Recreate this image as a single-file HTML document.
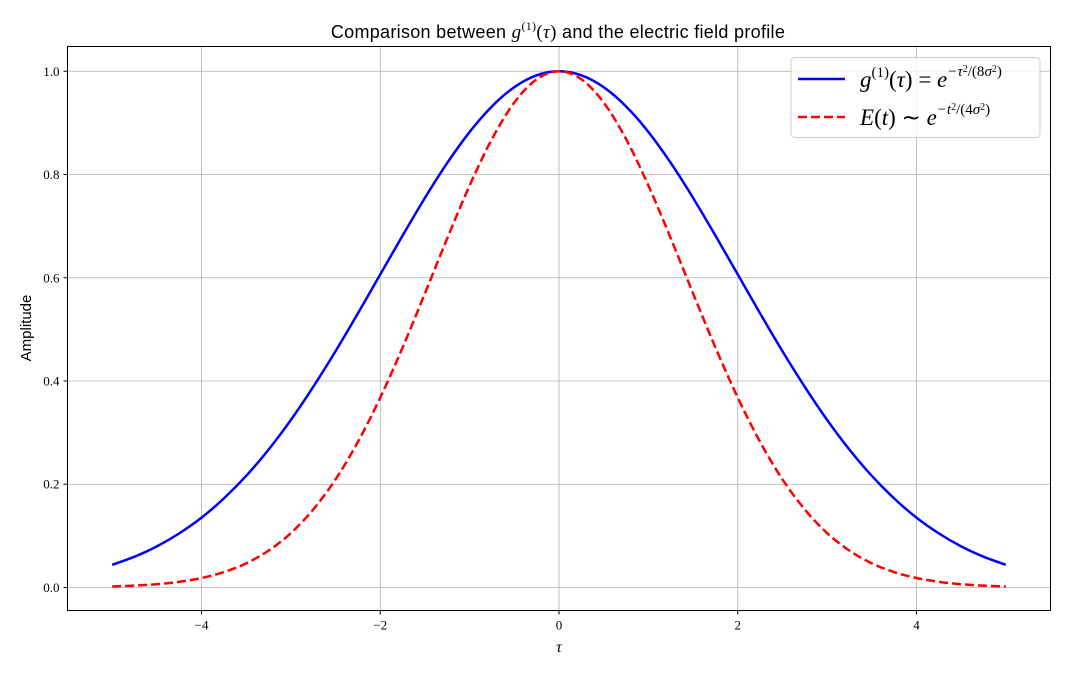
<!DOCTYPE html>
<html><head><meta charset="utf-8"><style>
html,body{margin:0;padding:0;background:#fff;}
svg{display:block;}
.tick{font-family:"Liberation Serif",serif;font-size:13px;fill:#000;}
.lbl{font-family:"Liberation Sans",sans-serif;font-size:15px;fill:#000;}
.math{font-family:"Liberation Serif",serif;font-style:italic;}
</style></head><body>
<svg id="chart" width="1067" height="676" viewBox="0 0 1067 676">
<g id="grid"></g>
<g id="series"></g>
<rect x="67.5" y="46.5" width="983" height="564" fill="none" stroke="#000" stroke-width="1"/>
<g id="ticks"></g>
<text x="558" y="38" text-anchor="middle" class="lbl" style="font-size:18px;letter-spacing:0.3px">Comparison between <tspan class="math" style="font-family:'Liberation Serif',serif;font-size:19px">g</tspan><tspan dy="-8" style="font-size:12px;font-family:'Liberation Serif',serif">(1)</tspan><tspan dy="8" style="font-family:'Liberation Serif',serif;font-size:19px">(</tspan><tspan class="math" style="font-size:19px">τ</tspan><tspan style="font-family:'Liberation Serif',serif;font-size:19px">)</tspan> and the electric field profile</text>
<text x="559" y="652" text-anchor="middle" class="math" style="font-size:16px">τ</text>
<text transform="translate(31,328) rotate(-90)" text-anchor="middle" class="lbl">Amplitude</text>
<g>
<rect x="791" y="57.5" width="249" height="80" rx="4" fill="#fff" fill-opacity="0.8" stroke="#ccc"/>
<line x1="798" y1="79" x2="845" y2="79" stroke="#0000ff" stroke-width="2.5"/>
<text x="860" y="87" style="font-family:'Liberation Serif',serif;font-size:23px"><tspan font-style="italic">g</tspan><tspan dy="-10" font-size="15">(1)</tspan><tspan dy="10">(</tspan><tspan font-style="italic">τ</tspan>) = <tspan font-style="italic">e</tspan><tspan dy="-11" font-size="15" font-style="italic">−τ</tspan><tspan dy="-4" font-size="10">2</tspan><tspan dy="4" font-size="15">/(8</tspan><tspan font-size="15" font-style="italic">σ</tspan><tspan dy="-4" font-size="10">2</tspan><tspan dy="4" font-size="15">)</tspan></text>
<line x1="798" y1="117" x2="845" y2="117" stroke="#ff0000" stroke-width="2.5" stroke-dasharray="9,4"/>
<text x="860" y="125" style="font-family:'Liberation Serif',serif;font-size:23px"><tspan font-style="italic">E</tspan>(<tspan font-style="italic">t</tspan>) ∼ <tspan font-style="italic">e</tspan><tspan dy="-11" font-size="15" font-style="italic">−t</tspan><tspan dy="-4" font-size="10">2</tspan><tspan dy="4" font-size="15">/(4</tspan><tspan font-size="15" font-style="italic">σ</tspan><tspan dy="-4" font-size="10">2</tspan><tspan dy="4" font-size="15">)</tspan></text>
</g>
</svg>
<script>
const xVals = [-5,-4.75,-4.5,-4.25,-4,-3.75,-3.5,-3.25,-3,-2.75,-2.5,-2.25,-2,-1.75,-1.5,-1.25,-1,-0.75,-0.5,-0.25,0,0.25,0.5,0.75,1,1.25,1.5,1.75,2,2.25,2.5,2.75,3,3.25,3.5,3.75,4,4.25,4.5,4.75,5];
const gVals = [0.0439,0.0596,0.0796,0.1048,0.1353,0.1726,0.2163,0.2671,0.3247,0.3888,0.4578,0.5311,0.6065,0.6818,0.7548,0.8226,0.8825,0.9321,0.9692,0.9922,1.0,0.9922,0.9692,0.9321,0.8825,0.8226,0.7548,0.6818,0.6065,0.5311,0.4578,0.3888,0.3247,0.2671,0.2163,0.1726,0.1353,0.1048,0.0796,0.0596,0.0439];
const eVals = [0.0019,0.0036,0.0063,0.0110,0.0183,0.0298,0.0468,0.0714,0.1054,0.1512,0.2096,0.2821,0.3679,0.4650,0.5698,0.6766,0.7788,0.8688,0.9394,0.9845,1.0,0.9845,0.9394,0.8688,0.7788,0.6766,0.5698,0.4650,0.3679,0.2821,0.2096,0.1512,0.1054,0.0714,0.0468,0.0298,0.0183,0.0110,0.0063,0.0036,0.0019];
const xTicks = [-4,-2,0,2,4];
const xTickLabels = ["−4","−2","0","2","4"];
const yTicks = [0,0.2,0.4,0.6,0.8,1.0];
const yTickLabels = ["0.0","0.2","0.4","0.6","0.8","1.0"];

const NS="http://www.w3.org/2000/svg";
const L=67.5,R=1050.5,T=46.5,B=610.5;
const xMin=-5.5,xMax=5.5,yMin=-0.0446,yMax=1.048;
function sx(v){return L+(v-xMin)/(xMax-xMin)*(R-L);}
function sy(v){return B-(v-yMin)/(yMax-yMin)*(B-T);}
function mk(tag,attrs,parent){const e=document.createElementNS(NS,tag);for(const k in attrs)e.setAttribute(k,attrs[k]);parent.appendChild(e);return e;}
const grid=document.getElementById('grid'),ticks=document.getElementById('ticks'),series=document.getElementById('series');
xTicks.forEach((t,i)=>{
  const x=sx(t);
  const g=mk('line',{x1:x,y1:T,x2:x,y2:B,stroke:'#b0b0b0','stroke-width':0.8},grid);
  
  
  const tk=mk('line',{x1:x,y1:B,x2:x,y2:B+4,stroke:'#000'},ticks);
  
  
  const tx=mk('text',{x:x,y:B+19,'text-anchor':'middle',class:'tick'},ticks);
  tx.textContent=xTickLabels[i];
  
  
});
yTicks.forEach((t,i)=>{
  const y=sy(t);
  const g=mk('line',{x1:L,y1:y,x2:R,y2:y,stroke:'#b0b0b0','stroke-width':0.8},grid);
  
  
  const tk=mk('line',{x1:L-4,y1:y,x2:L,y2:y,stroke:'#000'},ticks);
  
  
  const tx=mk('text',{x:L-8,y:y+4.5,'text-anchor':'end',class:'tick'},ticks);
  tx.textContent=yTickLabels[i];
  
  
});
function pathFor(ys){
  const p=xVals.map((x,i)=>[sx(x),sy(ys[i])]);
  let d='M'+p[0][0]+','+p[0][1];
  for(let i=0;i<p.length-1;i++){
    const p0=p[Math.max(0,i-1)],p1=p[i],p2=p[i+1],p3=p[Math.min(p.length-1,i+2)];
    const c1=[p1[0]+(p2[0]-p0[0])/6,p1[1]+(p2[1]-p0[1])/6];
    const c2=[p2[0]-(p3[0]-p1[0])/6,p2[1]-(p3[1]-p1[1])/6];
    d+=' C'+c1+' '+c2+' '+p2;
  }
  return d;
}
const gp=mk('path',{d:pathFor(gVals),fill:'none',stroke:'#0000ff','stroke-width':2.5},series);


const ep=mk('path',{d:pathFor(eVals),fill:'none',stroke:'#ff0000','stroke-width':2.5,'stroke-dasharray':'9,4'},series);


</script>
</body></html>
